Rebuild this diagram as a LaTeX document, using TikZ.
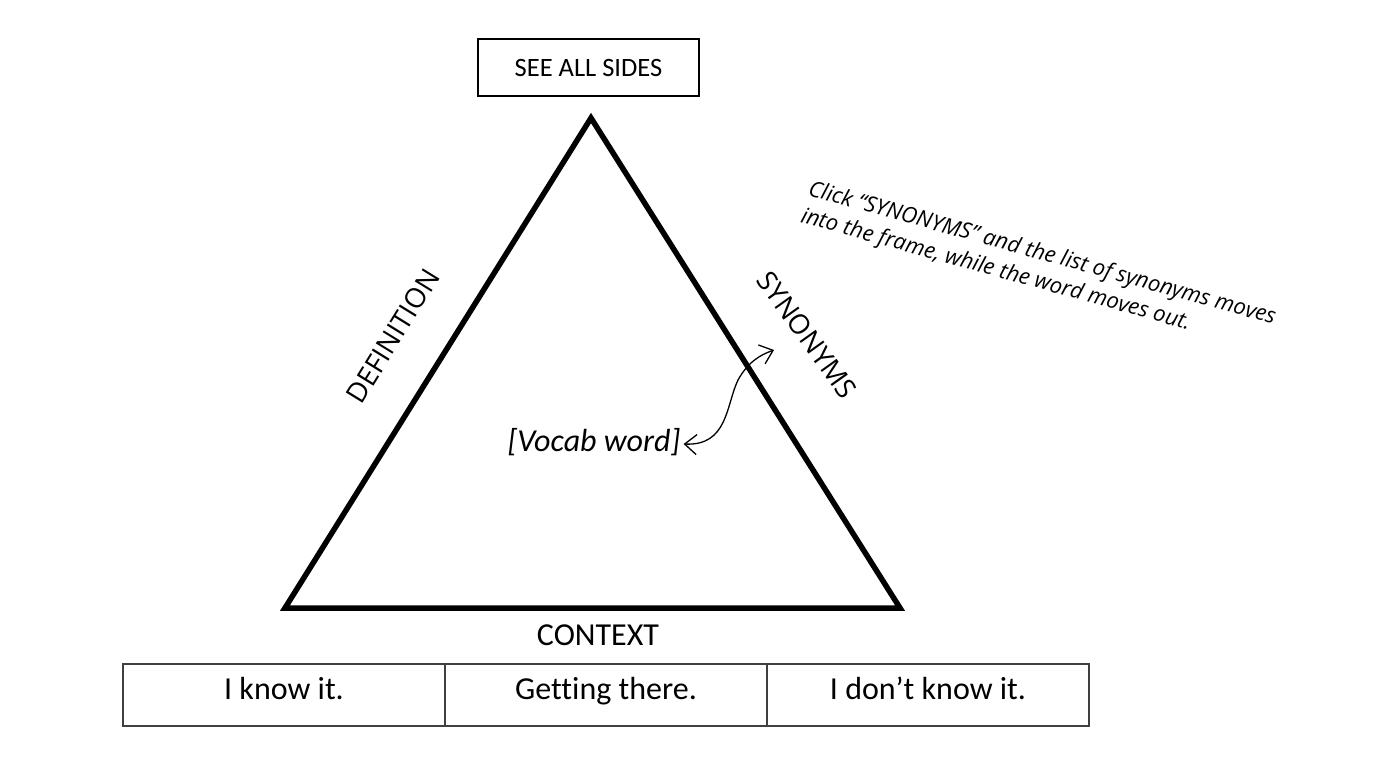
\documentclass[tikz,border=0pt]{standalone}
\usepackage{fontspec}
\setmainfont{Carlito}[Ligatures=NoCommon]
\newfontfamily\osans{Open Sans}
\usetikzlibrary{arrows.meta}
\begin{document}
\begin{tikzpicture}[x=1pt,y=-1pt,
  titlebox/.style={draw, line width=1.8pt, minimum width=221pt, minimum height=57pt, inner sep=0pt, font=\fontsize{26.5}{30}\selectfont},
  cell/.style={draw=black!75, line width=1.6pt, minimum width=322pt, minimum height=62pt, inner sep=0pt, text height=22pt, text depth=14pt, font=\fontsize{32}{36}\selectfont},
  sidelabel/.style={inner sep=0pt, font=\osans\fontsize{27.5}{30}\selectfont},
  note/.style={inner sep=0pt, align=left, font=\osans\itshape\fontsize{22}{28}\selectfont},
  swap/.style={line width=1.3pt, {Straight Barb[length=12pt,width=20pt,line width=1.3pt]}-{Straight Barb[length=12pt,width=20pt,line width=1.3pt]}}
]
\useasboundingbox (0,0) rectangle (1378,758);
\fill[white] (0,0) rectangle (1378,758);

% title box
\node[titlebox] (title) at (588.5,67.5) {SEE ALL SIDES};

% triangle
\coordinate (apex) at (591,118);
\coordinate (bl) at (285,608);
\coordinate (br) at (900,608);
\draw[line width=5.5pt, line join=miter] (apex) -- (br) -- (bl) -- cycle;

% side labels
\node[sidelabel, rotate=58.3] (def) at (393,336) {DEFINITION};
\node[sidelabel, rotate=-54.5] (syn) at (807,335) {SYNONYMS};
\node[inner sep=0pt, font=\fontsize{32}{36}\selectfont] (ctx) at (598,635) {CONTEXT};

% center word
\node[inner sep=0pt, font=\itshape\fontsize{32}{36}\selectfont] (vocab) at (594,442) {[Vocab word]};

% note
\node[note, rotate=-15.5, anchor=west] (hint) at (805,203) {Click “SYNONYMS” and the list of synonyms moves\\into the frame, while the word moves out.};

% curved double arrow
\coordinate (out) at (774,350);
\draw[swap] ([xshift=3pt,yshift=-2pt]vocab.east) .. controls (728,446) and (726,405) .. (738,380) .. controls (748,362) and (760,355) .. (out);

% table
\node[cell] (c1) at (284,695) {I know it.};
\node[cell] (c2) at (606,695) {Getting there.};
\node[cell] (c3) at (928,695) {I don’t know it.};
\end{tikzpicture}
\end{document}
